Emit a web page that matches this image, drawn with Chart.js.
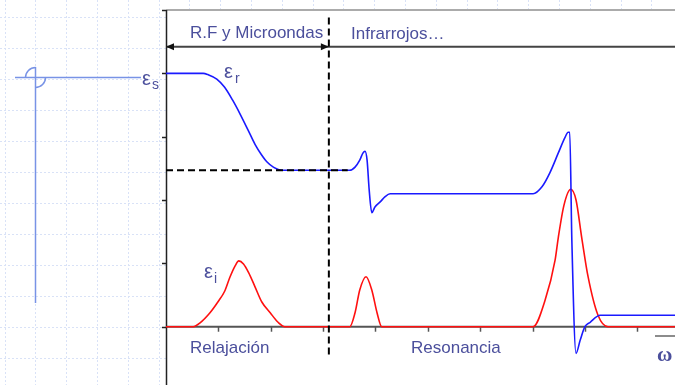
<!DOCTYPE html>
<html>
<head>
<meta charset="utf-8">
<script src="https://cdn.jsdelivr.net/npm/chart.js@4.4.1/dist/chart.umd.min.js"></script>
<style>
  html, body { margin: 0; padding: 0; background: #fff; }
  #wrap { width: 675px; height: 385px; }
</style>
</head>
<body>
<div id="wrap"><canvas id="grafico" width="675" height="385"></canvas></div>
<script>
// Escalas: frecuencia en unidades de marca, permitividad en unidades de εs/4
const xMin = 0, xMax = 9.72;
const yMin = -0.92, yMax = 5.0;
const xTicks = [1, 2, 3, 4, 5, 6, 7, 8, 9];
const yTicks = [0, 1, 2, 3, 4, 5];

// Parte real εr
const realX = [0, 0.71, 0.80, 0.97, 1.12, 1.27, 1.42, 1.57, 1.70, 1.82, 1.93, 2.05, 2.22,
  3.51, 3.61, 3.70, 3.76, 3.80, 3.84, 3.88, 3.93, 3.99, 4.09, 4.18, 4.28,
  7.01, 7.18, 7.33, 7.49, 7.62, 7.68, 7.71, 7.75, 7.83, 7.91, 8.00, 8.10, 8.29, 9.72];
const realY = [4.0, 4.0, 3.98, 3.91, 3.78, 3.58, 3.35, 3.10, 2.88, 2.72, 2.60, 2.52, 2.47,
  2.47, 2.52, 2.63, 2.74, 2.77, 2.63, 2.16, 1.80, 1.89, 1.97, 2.05, 2.10,
  2.10, 2.21, 2.43, 2.74, 2.99, 3.07, 3.07, 1.37, -0.42, -0.21, 0.0, 0.07, 0.18, 0.18];

// Parte imaginaria εi
const imagX = [0, 0.52, 0.65, 0.84, 0.99, 1.12, 1.22, 1.32, 1.39, 1.48, 1.58, 1.70, 1.83, 1.99, 2.14, 2.27,
  3.51, 3.61, 3.70, 3.82, 3.93, 4.03, 4.12,
  7.01, 7.24, 7.43, 7.49, 7.60, 7.73, 7.83, 7.94, 8.06, 8.25, 8.44, 9.72];
const imagY = [0, 0, 0.06, 0.22, 0.39, 0.56, 0.78, 0.96, 1.04, 0.99, 0.85, 0.63, 0.39, 0.22, 0.07, 0,
  0, 0.22, 0.58, 0.79, 0.58, 0.22, 0,
  0, 0.42, 1.05, 1.40, 1.92, 2.17, 2.00, 1.40, 0.79, 0.18, 0, 0];

// Frontera entre regiones y nivel tras la relajación
const fronteraX = 3.11;
const fronteraY = [4.88, -0.44];
const nivelRelaj = 2.47;
const nivelFinX = 3.47;
const flechaY = 4.42;

const puntos = (xs, ys) => xs.map((x, i) => ({ x, y: ys[i] }));

const TEXTO = '#4b4f9c';
const SANS = '"Liberation Sans", Arial, sans-serif';

function linea(ctx, x1, y1, x2, y2) {
  ctx.beginPath();
  ctx.moveTo(x1, y1);
  ctx.lineTo(x2, y2);
  ctx.stroke();
}

// Fondo cuadriculado fuera del área del gráfico
const fondo = {
  id: 'fondo',
  beforeDraw(chart) {
    const { ctx, chartArea: a, width, height } = chart;
    ctx.save();
    ctx.fillStyle = '#fff';
    ctx.fillRect(0, 0, width, height);
    ctx.strokeStyle = '#d9e2f7';
    ctx.lineWidth = 1;
    ctx.setLineDash([2, 2]);
    for (let x = 4.6; x < width; x += 30.8) linea(ctx, Math.round(x) + 0.5, 0, Math.round(x) + 0.5, height);
    for (let y = 16.5; y < height; y += 31) linea(ctx, 0, Math.round(y) + 0.5, width, Math.round(y) + 0.5);
    ctx.setLineDash([]);
    ctx.fillStyle = '#fff';
    ctx.fillRect(a.left, a.top, a.right - a.left, a.bottom - a.top);
    ctx.restore();
  }
};

// Ejes, marcas y flecha de la región
const ejes = {
  id: 'ejes',
  beforeDatasetsDraw(chart) {
    const { ctx, chartArea: a, scales: { x, y } } = chart;
    const x0 = x.getPixelForValue(0);
    const y0 = y.getPixelForValue(0);
    ctx.save();
    // línea superior
    ctx.strokeStyle = '#ababab';
    ctx.lineWidth = 2;
    linea(ctx, x0, y.getPixelForValue(5), a.right, y.getPixelForValue(5));
    // eje horizontal
    ctx.strokeStyle = '#555';
    ctx.lineWidth = 2;
    linea(ctx, x0, y0, a.right, y0);
    ctx.lineWidth = 1.5;
    xTicks.forEach(t => {
      const px = Math.round(x.getPixelForValue(t)) + 0.5;
      linea(ctx, px, y0, px, y0 + 5);
    });
    // flecha de la banda de frecuencias
    const fy = y.getPixelForValue(flechaY);
    const fx = x.getPixelForValue(fronteraX);
    ctx.strokeStyle = '#444';
    ctx.lineWidth = 2;
    linea(ctx, x0, fy, a.right, fy);
    ctx.fillStyle = '#111';
    ctx.beginPath();
    ctx.moveTo(x0, fy); ctx.lineTo(x0 + 8, fy - 3.5); ctx.lineTo(x0 + 8, fy + 3.5); ctx.closePath();
    ctx.fill();
    ctx.beginPath();
    ctx.moveTo(fx, fy); ctx.lineTo(fx - 8, fy - 3.5); ctx.lineTo(fx - 8, fy + 3.5); ctx.closePath();
    ctx.fill();
    // eje vertical
    ctx.strokeStyle = '#222';
    ctx.lineWidth = 1.5;
    linea(ctx, x0 + 0.5, a.top, x0 + 0.5, a.bottom);
    yTicks.forEach(t => {
      const py = Math.round(y.getPixelForValue(t)) + 0.5;
      linea(ctx, x0 - 4, py, x0, py);
    });
    ctx.restore();
  }
};

// Rótulos y símbolo de la izquierda
const rotulos = {
  id: 'rotulos',
  afterDraw(chart) {
    const { ctx } = chart;
    ctx.save();
    ctx.fillStyle = TEXTO;
    ctx.textBaseline = 'alphabetic';
    ctx.font = '17px ' + SANS;
    ctx.fillText('R.F y Microondas', 190, 38);
    ctx.fillText('Infrarrojos…', 351, 39);
    ctx.fillText('Relajación', 190, 353);
    ctx.fillText('Resonancia', 411, 353);

    ctx.font = '20px ' + SANS;
    ctx.fillText('ε', 142, 85);
    ctx.fillText('ε', 224, 78);
    ctx.fillText('ε', 204, 278);
    ctx.font = '14px ' + SANS;
    ctx.fillText('s', 152, 89);
    ctx.fillText('r', 235, 83);
    ctx.fillText('i', 214, 283);

    ctx.font = 'bold 21px "Liberation Serif", serif';
    ctx.fillText('ω', 657, 361);
    ctx.strokeStyle = '#666';
    ctx.lineWidth = 1.5;
    linea(ctx, 655, 336, 675, 336);

    // marca en cruz
    ctx.strokeStyle = '#7893e6';
    ctx.lineWidth = 1.5;
    linea(ctx, 15, 77.5, 141, 77.5);
    linea(ctx, 35.5, 67, 35.5, 303);
    ctx.beginPath();
    ctx.arc(35.5, 77.5, 10, Math.PI, 1.5 * Math.PI);
    ctx.stroke();
    ctx.beginPath();
    ctx.arc(35.5, 77.5, 10, 0, 0.5 * Math.PI);
    ctx.stroke();
    ctx.restore();
  }
};

new Chart(document.getElementById('grafico'), {
  type: 'line',
  data: {
    datasets: [
      {
        label: 'frontera',
        data: [{ x: fronteraX, y: fronteraY[0] }, { x: fronteraX, y: fronteraY[1] }],
        borderColor: '#000', borderWidth: 2, borderDash: [7, 4],
        pointRadius: 0, order: 0
      },
      {
        label: 'nivel',
        data: [{ x: xMin, y: nivelRelaj }, { x: nivelFinX, y: nivelRelaj }],
        borderColor: '#000', borderWidth: 2, borderDash: [7, 4],
        pointRadius: 0, order: 0
      },
      {
        label: 'εr',
        data: puntos(realX, realY),
        borderColor: '#1a1aff', borderWidth: 1.6,
        cubicInterpolationMode: 'monotone',
        pointRadius: 0, order: 1
      },
      {
        label: 'εi',
        data: puntos(imagX, imagY),
        borderColor: '#ff1010', borderWidth: 1.6,
        cubicInterpolationMode: 'monotone',
        pointRadius: 0, order: 2
      }
    ]
  },
  options: {
    responsive: false,
    animation: false,
    layout: { padding: { left: 166, top: 10, right: 0, bottom: 0 } },
    plugins: { legend: { display: false }, tooltip: { enabled: false } },
    scales: {
      x: { type: 'linear', min: xMin, max: xMax, display: false },
      y: { type: 'linear', min: yMin, max: yMax, display: false }
    }
  },
  plugins: [fondo, ejes, rotulos]
});
</script>
</body>
</html>
